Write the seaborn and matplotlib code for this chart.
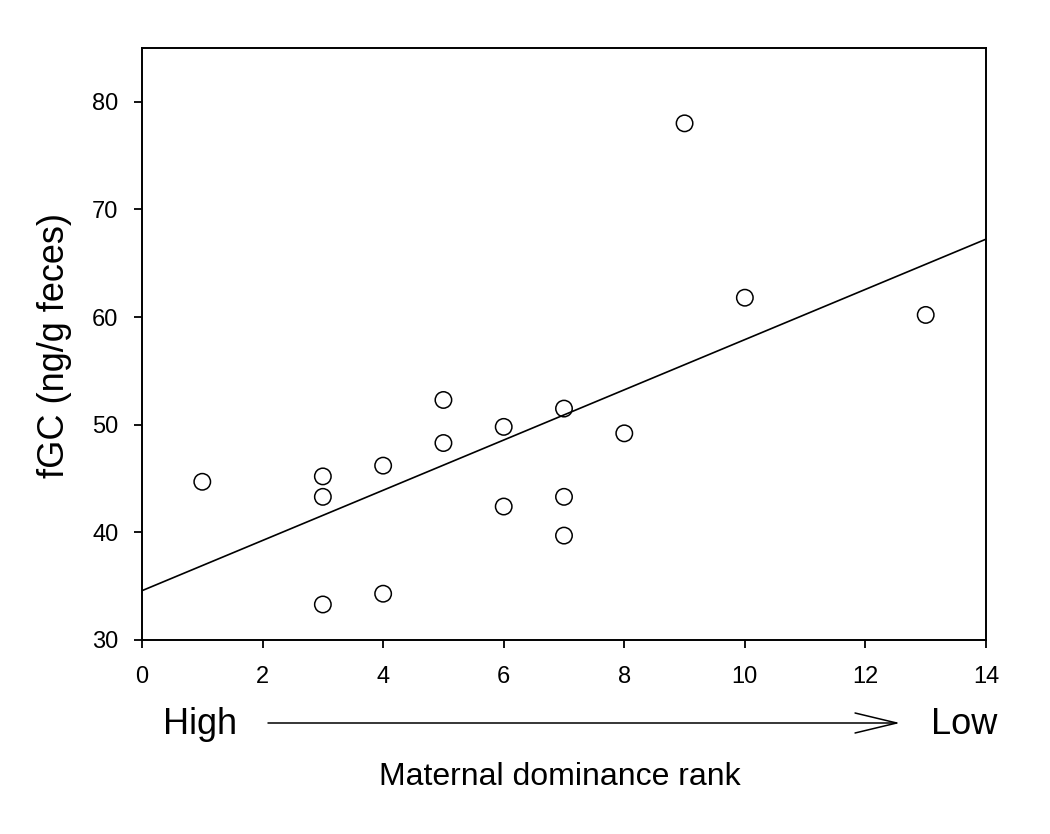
import numpy as np
import pandas as pd
import matplotlib
matplotlib.use("Agg")
import matplotlib.pyplot as plt
import seaborn as sns

# Data
rank = [1, 3, 3, 3, 4, 4, 5, 5, 6, 6, 7, 7, 7, 8, 9, 10, 13]
fgc = [44.7, 45.2, 43.3, 33.3, 46.2, 34.3, 52.3, 48.3, 49.8, 42.4,
       51.5, 43.3, 39.7, 49.2, 78.0, 61.8, 60.2]
x_ticks = [0, 2, 4, 6, 8, 10, 12, 14]
y_ticks = [30, 40, 50, 60, 70, 80]

df = pd.DataFrame({"rank": rank, "fgc": fgc})

sns.set_style("ticks")
plt.rcParams["font.family"] = ["Liberation Sans", "DejaVu Sans"]
plt.rcParams["text.color"] = "black"
plt.rcParams["xtick.labelcolor"] = "black"
plt.rcParams["ytick.labelcolor"] = "black"

fig = plt.figure(figsize=(10.5, 8.34), dpi=100)
ax = fig.add_axes([142 / 1050, 1 - 640 / 834, 844 / 1050, 592 / 834])

ax.set_xlim(0, 14)
ax.set_ylim(30, 85)

# regression line across the full axis
sns.regplot(data=df, x="rank", y="fgc", ax=ax, scatter=False, ci=None,
            truncate=False, color="black", line_kws={"linewidth": 1.2})
sns.scatterplot(data=df, x="rank", y="fgc", ax=ax, s=140, facecolor="none",
                edgecolor="black", linewidth=1.1, zorder=3)

ax.set_xticks(x_ticks)
ax.set_yticks(y_ticks)
ax.set_xlabel("")
ax.set_ylabel("")
ax.tick_params(axis="both", direction="out", length=6, width=1.3,
               labelsize=17, color="black", labelcolor="black")
ax.tick_params(axis="x", pad=13)
ax.tick_params(axis="y", pad=11)
for sp in ax.spines.values():
    sp.set_visible(True)
    sp.set_linewidth(1.4)
    sp.set_color("black")

fig.text(55 / 1050, 0.586, "fGC (ng/g feces)", rotation=90, ha="center",
         va="center", fontsize=26, color="black")

# rank direction annotation under the axis
fig.text(200 / 1050, 0.131, "High", ha="center", va="center", fontsize=26,
         color="black")
fig.text(964 / 1050, 0.131, "Low", ha="center", va="center", fontsize=26,
         color="black")
ax.annotate("", xy=(900, 111), xytext=(268, 111),
            xycoords="figure pixels", textcoords="figure pixels",
            arrowprops=dict(arrowstyle="->, head_length=3.0, head_width=0.72",
                            mutation_scale=10, linewidth=1.1, color="black",
                            shrinkA=0, shrinkB=0))
fig.text(560 / 1050, 0.068, "Maternal dominance rank", ha="center",
         va="center", fontsize=23, color="black")

fig.savefig("out.png", dpi=100, facecolor="white")
